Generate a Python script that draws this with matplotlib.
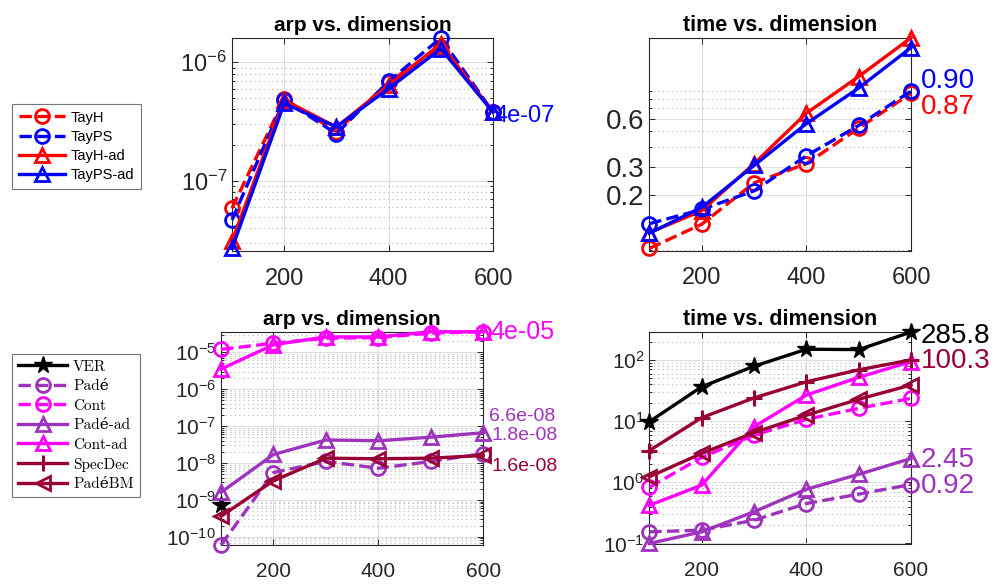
import numpy as np
import matplotlib
matplotlib.use('Agg')
import matplotlib.pyplot as plt
from matplotlib.ticker import LogLocator, NullFormatter, FixedLocator, FixedFormatter

plt.rcParams['font.family'] = ['Liberation Sans', 'DejaVu Sans']

dims = [100, 200, 300, 400, 500, 600]

# top row: arp
arp_tayh = [5.9e-8, 4.9e-7, 2.6e-7, 6.8e-7, 1.34e-6, 3.8e-7]
arp_tayps = [4.7e-8, 4.8e-7, 2.5e-7, 6.9e-7, 1.6e-6, 3.8e-7]
arp_tayh_ad = [3.1e-8, 4.8e-7, 2.85e-7, 6.4e-7, 1.43e-6, 3.8e-7]
arp_tayps_ad = [2.7e-8, 4.5e-7, 2.85e-7, 6.0e-7, 1.3e-6, 3.8e-7]

# top row: time
t_tayh = [0.0915, 0.130, 0.237, 0.313, 0.525, 0.87]
t_tayps = [0.131, 0.161, 0.211, 0.351, 0.546, 0.90]
t_tayh_ad = [0.115, 0.158, 0.313, 0.652, 1.11, 1.95]
t_tayps_ad = [0.114, 0.166, 0.305, 0.560, 0.94, 1.69]

# bottom row: arp
nan = np.nan
arp_ver = [7.2e-10, nan, nan, nan, nan, nan]
arp_pade = [6.0e-11, 5.5e-9, 1.1e-8, 7.2e-9, 1.1e-8, 1.8e-8]
arp_cont = [1.2e-5, 1.75e-5, 2.4e-5, 2.5e-5, 3.3e-5, 3.6e-5]
arp_pade_ad = [1.6e-9, 1.7e-8, 4.2e-8, 4.0e-8, 5.0e-8, 6.6e-8]
arp_cont_ad = [3.5e-6, 1.6e-5, 2.6e-5, 2.6e-5, 3.6e-5, 3.6e-5]
arp_specdec = [nan, nan, nan, nan, nan, nan]
arp_padebm = [3.6e-10, 3.3e-9, 1.35e-8, 1.3e-8, 1.35e-8, 1.6e-8]

# bottom row: time
t_ver = [9.8, 36.5, 79, 150, 148, 285.8]
t_pade = [0.155, 0.165, 0.24, 0.45, 0.64, 0.92]
t_cont = [0.83, 2.55, 5.9, 10.7, 16.2, 23.6]
t_pade_ad = [0.10, 0.155, 0.33, 0.77, 1.35, 2.45]
t_cont_ad = [0.42, 0.9, 8.1, 26.7, 52, 94]
t_specdec = [3.3, 11.4, 24, 44, 69, 100.3]
t_padebm = [1.23, 2.97, 6.5, 12.5, 22.8, 39]

RED = (1, 0, 0)
BLUE = (0, 0, 1)
MAG = (1, 0, 1)
PUR = (0.62, 0.2, 0.74)
DRED = (0.6, 0, 0.2)
TXT = '#262626'

fig = plt.figure(figsize=(9.97, 5.84), dpi=100)


def style(ax, fs, yticks=None):
    ax.set_yscale('log')
    ax.set_xticks([200, 400, 600])
    if yticks is not None:
        ax.yaxis.set_major_locator(FixedLocator(yticks))
    ax.tick_params(which='both', direction='in', top=True, right=True,
                   colors=TXT, labelsize=fs, width=0.7)
    ax.tick_params(which='major', length=4)
    ax.tick_params(which='minor', length=2)
    ax.tick_params(axis='x', pad=12)
    ax.yaxis.set_minor_locator(LogLocator(base=10, subs=np.arange(2, 10), numticks=50))
    ax.yaxis.set_minor_formatter(NullFormatter())
    ax.grid(True, which='major', color='#dedede', lw=0.8)
    ax.grid(True, which='minor', axis='y', color='#b5b5b5', lw=0.8, ls=(0, (1, 3)))
    ax.set_axisbelow(True)
    for s in ax.spines.values():
        s.set_color(TXT)
        s.set_linewidth(0.8)
    ax.set_xlim(100, 600)


def line(ax, y, c, ls, m, label, ms=10, filled=False):
    ax.plot(dims, y, color=c, ls=ls, lw=2.4, marker=m, ms=ms, mew=2,
            mfc=c if filled else 'none', mec=c, label=label, clip_on=False, zorder=3)


def tag(ax, y, s, c, fs, dx=3, dy=0):
    ax.annotate(s, xy=(600, y), xytext=(dx, dy), textcoords='offset points',
                color=c, fontsize=fs, va='center', ha='left', annotation_clip=False)


# top left
ax1 = fig.add_axes([0.2327, 0.5702, 0.2618, 0.3647])
style(ax1, 17, [1e-7, 1e-6])
line(ax1, arp_tayh, RED, '--', 'o', 'TayH')
line(ax1, arp_tayps, BLUE, '--', 'o', 'TayPS')
line(ax1, arp_tayh_ad, RED, '-', '^', 'TayH-ad')
line(ax1, arp_tayps_ad, BLUE, '-', '^', 'TayPS-ad')
ax1.set_ylim(2.57e-8, 1.6e-6)
ax1.set_title('arp vs. dimension', fontsize=15, fontweight='bold', pad=5)
tag(ax1, arp_tayps[-1], '4e-07', BLUE, 17, 1, -3)
leg1 = fig.legend(*ax1.get_legend_handles_labels(), loc='upper left',
                  bbox_to_anchor=(0.012, 0.822), fontsize=10.5, frameon=True,
                  fancybox=False, edgecolor='#555555', handlelength=3.2,
                  borderpad=0.45, labelspacing=0.36, handletextpad=0.4,
                  borderaxespad=0)
leg1.get_frame().set_linewidth(0.8)

# top right
ax2 = fig.add_axes([0.6513, 0.5707, 0.2625, 0.3647])
style(ax2, 20, [0.2, 0.3, 0.6])
line(ax2, t_tayh, RED, '--', 'o', 'TayH')
line(ax2, t_tayps, BLUE, '--', 'o', 'TayPS')
line(ax2, t_tayh_ad, RED, '-', '^', 'TayH-ad')
line(ax2, t_tayps_ad, BLUE, '-', '^', 'TayPS-ad')
ax2.set_ylim(0.0885, 1.95)
ax2.yaxis.set_major_formatter(FixedFormatter(['0.2', '0.3', '0.6']))
ax2.tick_params(axis='x', labelsize=17)
ax2.set_title('time vs. dimension', fontsize=15.5, fontweight='bold', pad=5)
tag(ax2, t_tayps[-1], '%.2f' % t_tayps[-1], BLUE, 20, 7, 7)
tag(ax2, t_tayh[-1], '%.2f' % t_tayh[-1], RED, 20, 7, -10)

# bottom left
ax3 = fig.add_axes([0.2217, 0.0668, 0.2631, 0.3652])
style(ax3, 15, [1e-10, 1e-9, 1e-8, 1e-7, 1e-6, 1e-5])
ax3.plot(dims, arp_ver, color='k', lw=2.4, marker='*', ms=13, label='VER', clip_on=False, zorder=3)
line(ax3, arp_pade, PUR, '--', 'o', 'Padé')
line(ax3, arp_cont, MAG, '--', 'o', 'Cont')
line(ax3, arp_pade_ad, PUR, '-', '^', 'Padé-ad')
line(ax3, arp_cont_ad, MAG, '-', '^', 'Cont-ad')
ax3.plot(dims, arp_specdec, color=DRED, lw=2.4, marker='+', ms=11, mew=2.2, label='SpecDec', clip_on=False)
line(ax3, arp_padebm, DRED, '-', '<', 'PadéBM')
ax3.set_ylim(6e-11, 3.6e-5)
ax3.set_title('arp vs. dimension', fontsize=15, fontweight='bold', pad=5)
tag(ax3, arp_cont[-1], '4e-05', MAG, 18, 5, 0)
tag(ax3, arp_pade_ad[-1], '6.6e-08', PUR, 14, 4, 12)
tag(ax3, arp_pade[-1], '1.8e-08', PUR, 14, 6, 13)
tag(ax3, arp_padebm[-1], '1.6e-08', DRED, 14, 6, -8)
leg2 = fig.legend(*ax3.get_legend_handles_labels(), loc='upper left',
                  bbox_to_anchor=(0.012, 0.394), frameon=True, fancybox=False,
                  edgecolor='#555555', handlelength=3.2, borderpad=0.4,
                  labelspacing=0.38, handletextpad=0.4, borderaxespad=0,
                  prop={'family': ['cmr10', 'DejaVu Serif'], 'size': 11})
leg2.get_frame().set_linewidth(0.8)

# bottom right
ax4 = fig.add_axes([0.6513, 0.0685, 0.2625, 0.3635])
style(ax4, 15, [0.1, 1, 10, 100])
ax4.plot(dims, t_ver, color='k', lw=2.4, marker='*', ms=13, clip_on=False, zorder=3)
line(ax4, t_pade, PUR, '--', 'o', 'Padé')
line(ax4, t_cont, MAG, '--', 'o', 'Cont')
line(ax4, t_pade_ad, PUR, '-', '^', 'Padé-ad')
line(ax4, t_cont_ad, MAG, '-', '^', 'Cont-ad')
ax4.plot(dims, t_specdec, color=DRED, lw=2.4, marker='+', ms=11, mew=2.2, clip_on=False, zorder=3)
line(ax4, t_padebm, DRED, '-', '<', 'PadéBM')
ax4.set_ylim(0.098, 290)
ax4.set_title('time vs. dimension', fontsize=15.5, fontweight='bold', pad=5)
tag(ax4, t_ver[-1], '%.1f' % t_ver[-1], 'k', 20, 7, -3)
tag(ax4, t_specdec[-1], '%.1f' % t_specdec[-1], DRED, 20, 7, -1)
tag(ax4, t_pade_ad[-1], '%.2f' % t_pade_ad[-1], PUR, 20, 7, -1)
tag(ax4, t_pade[-1], '%.2f' % t_pade[-1], PUR, 20, 7, -1)

fig.savefig('out.png', dpi=100)
